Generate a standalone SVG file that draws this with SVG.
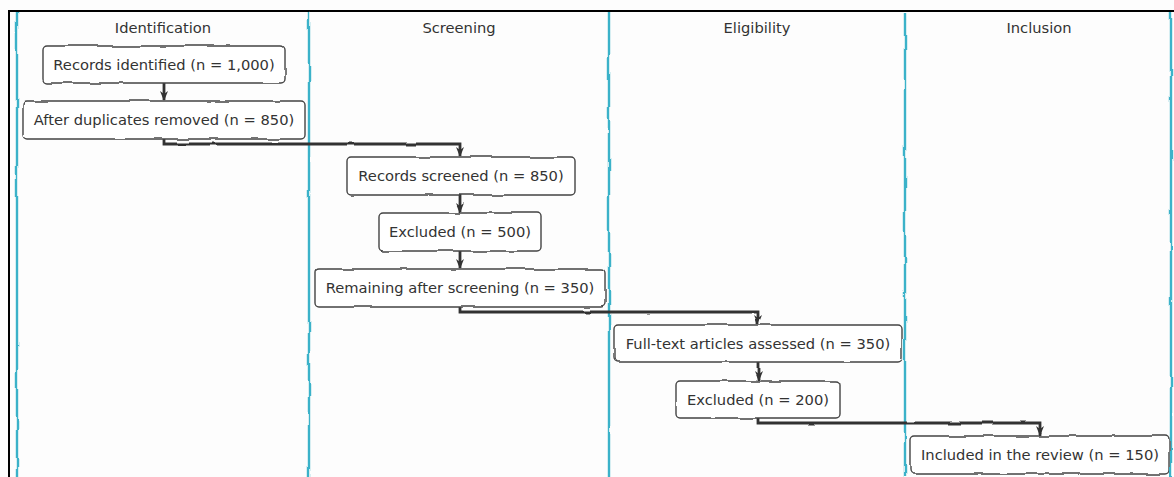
<svg xmlns="http://www.w3.org/2000/svg" width="1174" height="477" viewBox="0 0 1174 477">
<defs>
<filter id="rough" x="-5%" y="-5%" width="110%" height="110%">
<feTurbulence type="fractalNoise" baseFrequency="0.035" numOctaves="2" seed="3" result="n"/>
<feDisplacementMap in="SourceGraphic" in2="n" scale="3" xChannelSelector="R" yChannelSelector="G"/>
</filter>
<marker id="arr" viewBox="0 0 10 10" refX="9" refY="5" markerWidth="10" markerHeight="10" markerUnits="userSpaceOnUse" orient="auto">
<path d="M0,1 L10,5 L0,9 L3,5 Z" fill="#333"/>
</marker>
<style>
.lane{stroke:#3ab2c9;stroke-width:2.4;fill:none}
.box{fill:#fff;stroke:#444;stroke-width:1.4}
.t{font-family:"DejaVu Sans",sans-serif;font-size:14.7px;fill:#333;text-anchor:middle;dominant-baseline:central}
.h{font-family:"DejaVu Sans",sans-serif;font-size:14.7px;fill:#333;text-anchor:middle}
.c{stroke:#333;stroke-width:2.8;fill:none}
</style>
</defs>
<rect x="0" y="0" width="1174" height="477" fill="#fdfdfd"/>
<path d="M9,477 V11 H1174" fill="none" stroke="#000" stroke-width="2"/>
<g id="lanes" filter="url(#rough)">
<line class="lane" x1="17" y1="12" x2="17" y2="477"/>
<line class="lane" x1="309" y1="12" x2="309" y2="477"/>
<line class="lane" x1="609" y1="12" x2="609" y2="477"/>
<line class="lane" x1="905" y1="12" x2="905" y2="477"/>
<line class="lane" x1="1171" y1="12" x2="1171" y2="477"/>
</g>
<g id="lane-titles">
<text class="h" x="163" y="33">Identification</text>
<text class="h" x="459" y="33">Screening</text>
<text class="h" x="757" y="33">Eligibility</text>
<text class="h" x="1039" y="33">Inclusion</text>
</g>
<g id="connectors" filter="url(#rough)">
<path class="c" d="M164,83 V100" marker-end="url(#arr)"/>
<path class="c" d="M164,139 V144 H460 V156" marker-end="url(#arr)"/>
<path class="c" d="M460,195 V212" marker-end="url(#arr)"/>
<path class="c" d="M460,251 V268" marker-end="url(#arr)"/>
<path class="c" d="M460,307 V312 H758 V324" marker-end="url(#arr)"/>
<path class="c" d="M758,362 V380" marker-end="url(#arr)"/>
<path class="c" d="M758,418 V423 H1040 V435" marker-end="url(#arr)"/>
</g>
<g id="n1"><rect class="box" x="43" y="46" width="242" height="37" rx="4" filter="url(#rough)"/><text class="t" x="164" y="64">Records identified (n = 1,000)</text></g>
<g id="n2"><rect class="box" x="23" y="101" width="282" height="38" rx="4" filter="url(#rough)"/><text class="t" x="164" y="119">After duplicates removed (n = 850)</text></g>
<g id="n3"><rect class="box" x="347" y="157" width="228" height="38" rx="4" filter="url(#rough)"/><text class="t" x="461" y="175">Records screened (n = 850)</text></g>
<g id="n4"><rect class="box" x="379" y="213" width="162" height="38" rx="4" filter="url(#rough)"/><text class="t" x="460" y="231">Excluded (n = 500)</text></g>
<g id="n5"><rect class="box" x="315" y="269" width="290" height="38" rx="4" filter="url(#rough)"/><text class="t" x="460" y="287">Remaining after screening (n = 350)</text></g>
<g id="n6"><rect class="box" x="614" y="325" width="288" height="37" rx="4" filter="url(#rough)"/><text class="t" x="758" y="343">Full-text articles assessed (n = 350)</text></g>
<g id="n7"><rect class="box" x="676" y="381" width="164" height="37" rx="4" filter="url(#rough)"/><text class="t" x="758" y="399">Excluded (n = 200)</text></g>
<g id="n8"><rect class="box" x="910" y="436" width="259" height="38" rx="4" filter="url(#rough)"/><text class="t" x="1040" y="454">Included in the review (n = 150)</text></g>
</svg>
